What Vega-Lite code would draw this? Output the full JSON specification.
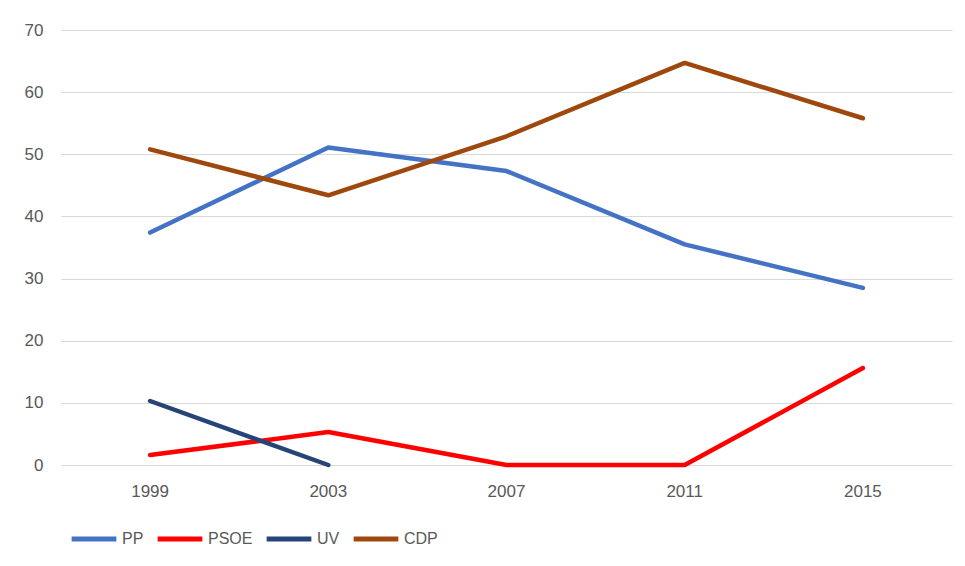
{
  "$schema": "https://vega.github.io/schema/vega-lite/v6.json",
  "width": 891,
  "height": 435,
  "autosize": "none",
  "padding": {"left": 61, "top": 30, "right": 13, "bottom": 101},
  "background": "white",
  "config": {
    "view": {"stroke": null},
    "font": "Liberation Sans"
  },
  "data": {
    "values": [
      {"year": "1999", "party": "PP", "value": 37.4},
      {"year": "2003", "party": "PP", "value": 51.1},
      {"year": "2007", "party": "PP", "value": 47.3},
      {"year": "2011", "party": "PP", "value": 35.5},
      {"year": "2015", "party": "PP", "value": 28.5},
      {"year": "1999", "party": "PSOE", "value": 1.6},
      {"year": "2003", "party": "PSOE", "value": 5.3},
      {"year": "2007", "party": "PSOE", "value": 0},
      {"year": "2011", "party": "PSOE", "value": 0},
      {"year": "2015", "party": "PSOE", "value": 15.6},
      {"year": "1999", "party": "UV", "value": 10.3},
      {"year": "2003", "party": "UV", "value": 0},
      {"year": "1999", "party": "CDP", "value": 50.8},
      {"year": "2003", "party": "CDP", "value": 43.4},
      {"year": "2007", "party": "CDP", "value": 52.9},
      {"year": "2011", "party": "CDP", "value": 64.7},
      {"year": "2015", "party": "CDP", "value": 55.8}
    ]
  },
  "mark": {"type": "line", "strokeWidth": 4.5, "strokeCap": "round", "strokeJoin": "round"},
  "encoding": {
    "x": {
      "field": "year",
      "type": "ordinal",
      "scale": {"type": "band", "paddingInner": 0, "paddingOuter": 0},
      "axis": {
        "title": null,
        "labelAngle": 0,
        "ticks": false,
        "domain": false,
        "grid": false,
        "labelFontSize": 17,
        "labelColor": "#595959",
        "labelPadding": 18
      }
    },
    "y": {
      "field": "value",
      "type": "quantitative",
      "scale": {"domain": [0, 70], "nice": false},
      "axis": {
        "title": null,
        "values": [0, 10, 20, 30, 40, 50, 60, 70],
        "ticks": false,
        "domain": false,
        "grid": true,
        "gridColor": "#D9D9D9",
        "gridWidth": 1.2,
        "labelFontSize": 17,
        "labelColor": "#595959",
        "labelPadding": 18
      }
    },
    "color": {
      "field": "party",
      "type": "nominal",
      "scale": {
        "domain": ["PP", "PSOE", "UV", "CDP"],
        "range": ["#4472C4", "#FF0000", "#264478", "#9E480E"]
      },
      "legend": {
        "title": null,
        "orient": "none",
        "direction": "horizontal",
        "legendX": 8,
        "legendY": 484,
        "symbolType": "stroke",
        "symbolSize": 2000,
        "symbolStrokeWidth": 5,
        "labelFontSize": 16,
        "labelColor": "#595959",
        "labelOffset": 3,
        "columnPadding": 3
      }
    }
  }
}
